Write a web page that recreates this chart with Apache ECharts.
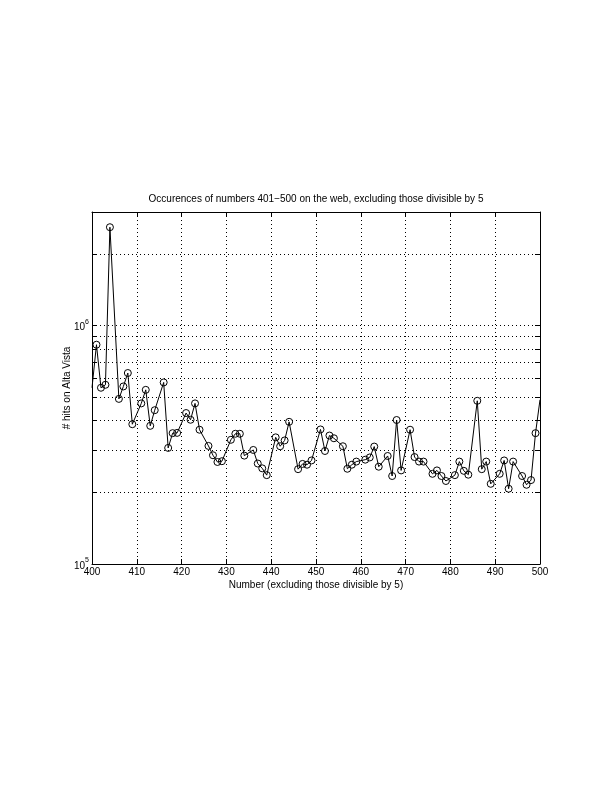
<!DOCTYPE html>
<html>
<head>
<meta charset="utf-8">
<script src="https://cdn.jsdelivr.net/npm/echarts@6/dist/echarts.min.js"></script>
<style>
html,body{margin:0;padding:0;background:#fff;}
#chart{width:612px;height:792px;}
</style>
</head>
<body>
<div id="chart"></div>
<script>
// Data
const numbers = [401,402,403,404,406,407,408,409,411,412,413,414,416,417,418,419,421,422,423,424,
  426,427,428,429,431,432,433,434,436,437,438,439,441,442,443,444,446,447,448,449,
  451,452,453,454,456,457,458,459,461,462,463,464,466,467,468,469,471,472,473,474,
  476,477,478,479,481,482,483,484,486,487,488,489,491,492,493,494,496,497,498,499];
const hits = [8.32e5,5.49e5,5.65e5,2.59e6,4.93e5,5.56e5,6.33e5,3.86e5,4.72e5,5.38e5,3.80e5,4.42e5,5.78e5,3.07e5,3.54e5,3.55e5,4.30e5,4.03e5,4.72e5,3.66e5,
  3.13e5,2.86e5,2.68e5,2.70e5,3.32e5,3.52e5,3.52e5,2.85e5,3.01e5,2.64e5,2.52e5,2.36e5,3.40e5,3.12e5,3.30e5,3.95e5,2.50e5,2.63e5,2.61e5,2.72e5,
  3.67e5,2.98e5,3.46e5,3.37e5,3.12e5,2.51e5,2.61e5,2.69e5,2.74e5,2.80e5,3.11e5,2.56e5,2.84e5,2.34e5,4.02e5,2.47e5,3.66e5,2.81e5,2.69e5,2.69e5,
  2.39e5,2.47e5,2.34e5,2.23e5,2.36e5,2.69e5,2.46e5,2.37e5,4.84e5,2.50e5,2.69e5,2.17e5,2.39e5,2.72e5,2.07e5,2.69e5,2.34e5,2.15e5,2.25e5,3.54e5];
// line continues to the plot edges (no markers there)
const edgeNumbers = [400, 500];
const edgeHits = [5.49e5, 4.89e5];

const xTicks = [400,410,420,430,440,450,460,470,480,490,500];
const yGridValues = [1e5,2e5,3e5,4e5,5e5,6e5,7e5,8e5,9e5,1e6,2e6,3e6];
const yLabelValues = [1e5, 1e6];

const titleText = 'Occurences of numbers 401\u2212500 on the web, excluding those divisible by 5';
const xTitle = 'Number (excluding those divisible by 5)';
const yTitle = '# hits on Alta Vista';

const FONT = 'Liberation Sans, Arial, Helvetica, sans-serif';

const seriesData = [{value:[edgeNumbers[0], edgeHits[0]], symbol:'none'}]
  .concat(numbers.map((n,i)=>[n, hits[i]]))
  .concat([{value:[edgeNumbers[1], edgeHits[1]], symbol:'none'}]);

const dotted = {color:'#000', width:1, type:[1,3]};

const chart = echarts.init(document.getElementById('chart'), null, {renderer:'canvas'});
const supFmt = v => {
  const e = Math.round(Math.log10(v));
  if (Math.abs(v - Math.pow(10,e)) > 1e-6 * v) return '';
  return '{b|10}{s|' + e + '}';
};
const commonX = {
  type:'value', min:400, max:500, interval:10,
  axisLine:{show:true, onZero:false, lineStyle:{color:'#000', width:1}},
  axisTick:{show:true, inside:true, length:5, lineStyle:{color:'#000'}},
};
const commonY = {
  type:'log', logBase:10, min:1e5, max:3e6,
  axisLine:{show:true, onZero:false, lineStyle:{color:'#000', width:1}},
  axisTick:{show:true, inside:true, length:5, lineStyle:{color:'#000'}, customValues:yGridValues},
};
chart.setOption({
  animation:false,
  backgroundColor:'#fff',
  textStyle:{fontFamily:FONT},
  grid:{left:92, right:72, top:212, bottom:228, containLabel:false},
  xAxis:[
    Object.assign({}, commonX, {
      position:'bottom',
      name:xTitle, nameLocation:'middle', nameGap:16,
      nameTextStyle:{fontFamily:FONT, fontSize:10, color:'#000'},
      axisLabel:{show:true, margin:3, fontFamily:FONT, fontSize:10, color:'#000', customValues:xTicks},
      splitLine:{show:true, lineStyle:dotted}
    }),
    Object.assign({}, commonX, {
      position:'top',
      name:titleText, nameLocation:'middle', nameGap:8,
      nameTextStyle:{fontFamily:FONT, fontSize:10, color:'#000'},
      axisLabel:{show:false},
      splitLine:{show:false}
    })
  ],
  yAxis:[
    Object.assign({}, commonY, {
      position:'left',
      name:yTitle, nameLocation:'middle', nameGap:20, nameRotate:90, nameMoveOverlap:false,
      nameTextStyle:{fontFamily:FONT, fontSize:10, color:'#000'},
      axisLabel:{show:true, margin:3, customValues:yLabelValues, formatter:supFmt,
        rich:{
          b:{fontFamily:FONT, fontSize:10, color:'#000', verticalAlign:'bottom'},
          s:{fontFamily:FONT, fontSize:7, color:'#000', verticalAlign:'bottom', padding:[0,0,7,0]}
        }},
      splitLine:{show:true, lineStyle:dotted}
    }),
    Object.assign({}, commonY, {
      position:'right',
      axisLabel:{show:false},
      splitLine:{show:false}
    })
  ],
  series:[{
    type:'line',
    xAxisIndex:0, yAxisIndex:0,
    data:seriesData,
    symbol:'circle', symbolSize:7, showAllSymbol:true,
    clip:true,
    lineStyle:{color:'#000', width:1},
    itemStyle:{color:'rgba(0,0,0,0)', borderColor:'#000', borderWidth:1},
    emphasis:{disabled:true}
  }]
});
</script>
</body>
</html>
